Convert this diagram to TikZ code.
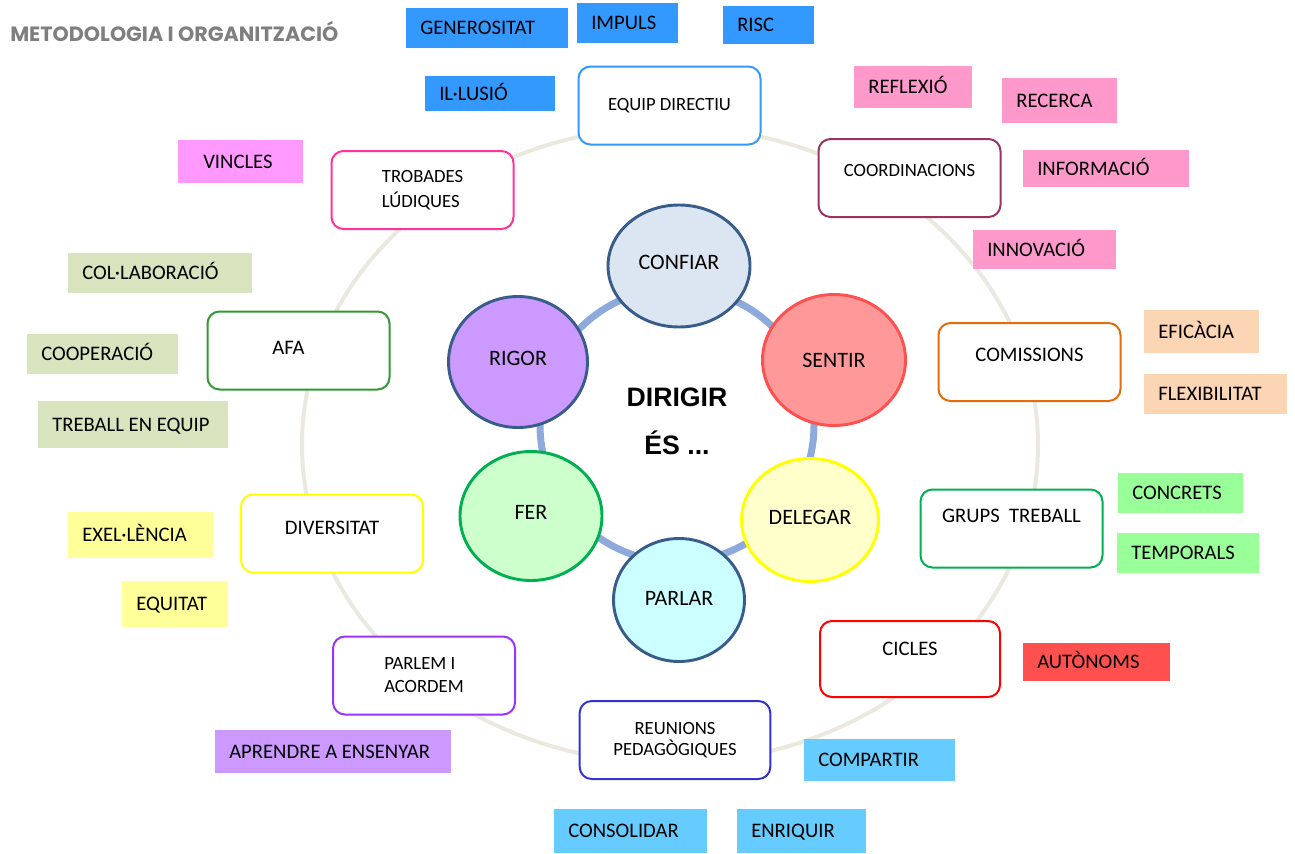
\documentclass[tikz,border=0pt]{standalone}
\usepackage{fontspec}
\setmainfont{Carlito}
\newfontfamily\titol{Poppins}
\newfontfamily\negreta{Liberation Sans}
\usetikzlibrary{shapes.geometric}
\definecolor{gris}{HTML}{EBE9DF}
\definecolor{grisT}{HTML}{7F7F7F}
\definecolor{anell}{HTML}{8EA9DB}
\definecolor{blauF}{HTML}{385D8A}
\definecolor{blauT}{HTML}{3399FF}
\definecolor{blauC}{HTML}{66CCFF}
\definecolor{blauP}{HTML}{DCE6F2}
\definecolor{rosa}{HTML}{FF99CC}
\definecolor{rosaV}{HTML}{FF99FF}
\definecolor{rosaF}{HTML}{FF3399}
\definecolor{grana}{HTML}{993366}
\definecolor{taronja}{HTML}{E46C0A}
\definecolor{pressec}{HTML}{FCD5B5}
\definecolor{verd}{HTML}{00B050}
\definecolor{verdF}{HTML}{339933}
\definecolor{verdC}{HTML}{99FF99}
\definecolor{verdP}{HTML}{CCFFCC}
\definecolor{vermell}{HTML}{FF5050}
\definecolor{salmo}{HTML}{FF9999}
\definecolor{indi}{HTML}{3333CC}
\definecolor{morat}{HTML}{9933FF}
\definecolor{lila}{HTML}{CC99FF}
\definecolor{groc}{HTML}{FFFF99}
\definecolor{grocF}{HTML}{FFFF00}
\definecolor{grocP}{HTML}{FFFFCC}
\definecolor{cel}{HTML}{CCFFFF}
\definecolor{oliva}{HTML}{D7E4BD}
\begin{document}
\begin{tikzpicture}[x=0.75pt,y=-0.75pt,line join=round,line cap=round,
	etiqueta/.style={anchor=north west,inner xsep=10.5pt,inner ysep=0pt,align=flush left,text height=10pt,text depth=0pt,font=\fontsize{15.5}{18}\selectfont},
	caixa/.style={draw,fill=white,line width=1.5pt,rounded corners=9pt,align=center,inner sep=2pt,minimum width=136.5pt,minimum height=58.5pt,font=\fontsize{15.5}{18}\selectfont},
	petita/.style={font=\fontsize{14}{18.75}\selectfont},
	bola/.style={ellipse,line width=2.2pt,draw=blauF,inner sep=0pt,text height=10.6pt,text depth=6pt,font=\fontsize{16.5}{20}\selectfont}]
	\useasboundingbox (0,0) rectangle (1295,853);
	%% cercles de fons
	\draw[gris,line width=3pt] (670,445) ellipse [x radius=368,y radius=318];
	\draw[anell,line width=5.25pt] (677,425) circle [radius=137];
	%% titol
	\node[anchor=west,inner sep=0pt,text=grisT,font=\titol\bfseries\fontsize{15.5}{18}\selectfont] (titol) at (10,31) {METODOLOGIA I ORGANITZACIÓ};
	%% centre
	\node[align=center,font=\negreta\bfseries\fontsize{20}{36}\selectfont] (dirigir) at (677,421) {DIRIGIR\\ÉS ...};
	\node[bola,fill=blauP,minimum width=106.5pt,minimum height=91.5pt] (confiar) at (679,266) {CONFIAR};
	\node[bola,fill=salmo,draw=vermell,text depth=0pt,minimum width=107.25pt,minimum height=98.25pt] (sentir) at (834,360) {SENTIR};
	\node[bola,fill=grocP,draw=grocF,text depth=4.5pt,minimum width=102.75pt,minimum height=92.25pt] (delegar) at (810,520) {DELEGAR};
	\node[bola,fill=cel,text depth=3pt,minimum width=98.25pt,minimum height=92.25pt] (parlar) at (679,600) {PARLAR};
	\node[bola,fill=verdP,draw=verd,minimum width=106.5pt,minimum height=96.75pt] (fer) at (531,516) {FER};
	\node[bola,fill=lila,minimum width=104.25pt,minimum height=98.25pt] (rigor) at (518,362) {RIGOR};
	%% caixes de l'anell exterior
	\node[caixa,petita,draw=blauT,text height=9pt,text depth=1.5pt] (equip) at (669.5,105.5) {EQUIP DIRECTIU};
	\node[caixa,petita,draw=grana,text height=9pt,text depth=12pt] (coordinacions) at (909.5,178) {COORDINACIONS};
	\node[caixa,draw=taronja,text height=10pt,text depth=10.5pt] (comissions) at (1029.5,362) {COMISSIONS};
	\node[caixa,draw=verd,text height=10pt,text depth=19.5pt] (grups) at (1011.5,528.5) {GRUPS\ \ TREBALL};
	\node[caixa,draw=red,text height=10pt,text depth=15pt,minimum width=135pt,minimum height=57pt] (cicles) at (910,659) {CICLES};
	\node[caixa,draw=indi,font=\fontsize{14}{15.75}\selectfont,minimum width=143pt] (reunions) at (675,740) {REUNIONS\\PEDAGÒGIQUES};
	\node[caixa,draw=morat,align=left,font=\fontsize{14}{17.25}\selectfont] (parlem) at (424,675.5) {PARLEM I\\ACORDEM};
	\node[caixa,draw=grocF,text height=10pt,text depth=9pt] (diversitat) at (332,533.5) {DIVERSITAT};
	\node[caixa,draw=verdF,text height=10pt,text depth=4.5pt] (afa) at (298.5,350.5) {AFA\hspace*{15pt}};
	\node[caixa,petita,draw=rosaF,align=left] (trobades) at (422.5,190) {TROBADES\\LÚDIQUES};
	%% etiquetes
	\node[etiqueta,fill=blauT,text width=100.5pt,minimum height=30pt] (generositat) at (406,8) {GENEROSITAT};
	\node[etiqueta,fill=blauT,text width=54.75pt,minimum height=30pt] (impuls) at (577,3) {IMPULS};
	\node[etiqueta,fill=blauT,text width=47.25pt,minimum height=28.5pt] (risc) at (723,6) {RISC};
	\node[etiqueta,fill=blauT,text width=76.5pt,minimum height=26.25pt] (illusio) at (425,76) {IL·LUSIÓ};
	\node[etiqueta,fill=rosaV,inner xsep=18.75pt,text width=56.25pt,minimum height=32.25pt] (vincles) at (178,140) {VINCLES};
	\node[etiqueta,fill=rosa,text width=67.5pt,minimum height=31.5pt] (reflexio) at (854,66) {REFLEXIÓ};
	\node[etiqueta,fill=rosa,text width=65.25pt,minimum height=33.75pt] (recerca) at (1002,78) {RECERCA};
	\node[etiqueta,fill=rosa,text width=103.5pt,minimum height=27.75pt] (informacio) at (1023,150) {INFORMACIÓ};
	\node[etiqueta,fill=rosa,text width=86.25pt,minimum height=29.25pt] (innovacio) at (973,230) {INNOVACIÓ};
	\node[etiqueta,fill=pressec,text width=65.25pt,minimum height=32.25pt] (eficacia) at (1144,310) {EFICÀCIA};
	\node[etiqueta,fill=pressec,text width=86.25pt,minimum height=30pt] (flexibilitat) at (1144,374) {FLEXIBILITAT};
	\node[etiqueta,fill=verdC,text width=72.75pt,minimum height=30pt] (concrets) at (1118,473) {CONCRETS};
	\node[etiqueta,fill=verdC,text width=85.5pt,minimum height=30pt] (temporals) at (1117,533) {TEMPORALS};
	\node[etiqueta,fill=vermell,text width=89.25pt,minimum height=28.5pt] (autonoms) at (1023,643) {AUTÒNOMS};
	\node[etiqueta,fill=blauC,text width=92.25pt,minimum height=31.5pt] (compartir) at (804,739) {COMPARTIR};
	\node[etiqueta,fill=blauC,text width=93.75pt,minimum height=33pt] (consolidar) at (554,809) {CONSOLIDAR};
	\node[etiqueta,fill=blauC,text width=75.75pt,minimum height=33pt] (enriquir) at (737,809) {ENRIQUIR};
	\node[etiqueta,fill=lila,text width=156pt,minimum height=32.25pt] (aprendre) at (215,730) {APRENDRE A ENSENYAR};
	\node[etiqueta,fill=groc,text width=87.75pt,minimum height=34.5pt] (excelencia) at (68,512) {EXEL·LÈNCIA};
	\node[etiqueta,fill=groc,text width=58.5pt,minimum height=34.5pt] (equitat) at (122,581) {EQUITAT};
	\node[etiqueta,fill=oliva,text width=117pt,minimum height=30pt] (collaboracio) at (68,253) {COL·LABORACIÓ};
	\node[etiqueta,fill=oliva,text width=92.25pt,minimum height=30pt] (cooperacio) at (27,334) {COOPERACIÓ};
	\node[etiqueta,fill=oliva,text width=121.5pt,minimum height=35.25pt] (treball) at (38,401) {TREBALL EN EQUIP};
\end{tikzpicture}
\end{document}
